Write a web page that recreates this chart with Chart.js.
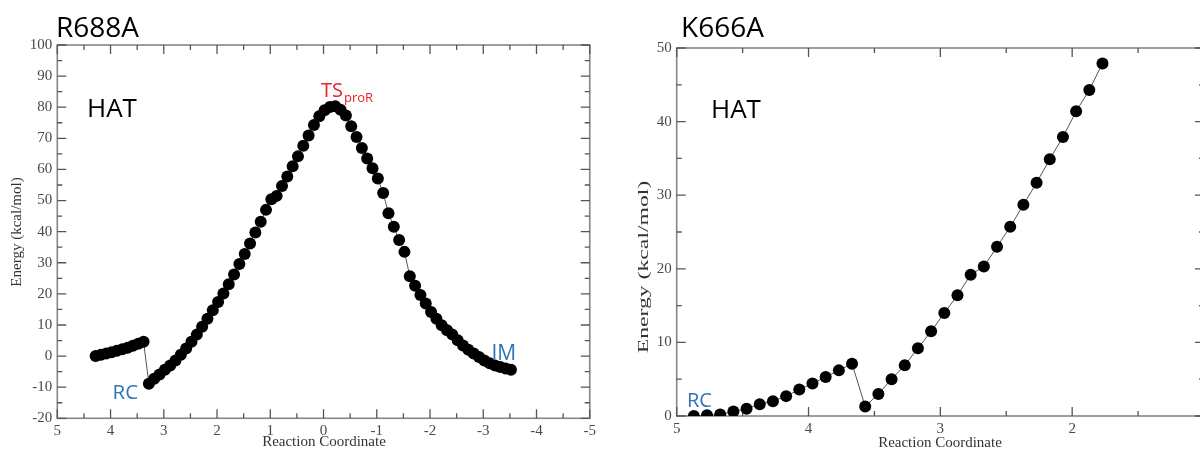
<!DOCTYPE html>
<html>
<head>
<meta charset="utf-8">
<script src="https://cdn.jsdelivr.net/npm/chart.js@4.4.1/dist/chart.umd.min.js"></script>
<style>
  html, body { margin: 0; padding: 0; background: #fff; overflow: hidden; width: 1200px; height: 452px; }
  canvas { position: absolute; top: 0; }
  #r688a { left: 0; }
  #k666a { left: 600px; }
</style>
</head>
<body>
<canvas id="r688a" width="600" height="452"></canvas>
<canvas id="k666a" width="620" height="452"></canvas>
<script>
// ---- R688A scan: reaction coordinate (Å difference) and relative energy (kcal/mol)
const r688aCoord = [
  4.28, 4.18, 4.08, 3.98, 3.88, 3.78, 3.68, 3.58, 3.48, 3.38,
  3.28, 3.18, 3.08, 2.98, 2.88, 2.78, 2.68, 2.58, 2.48, 2.38,
  2.28, 2.18, 2.08, 1.98, 1.88, 1.78, 1.68, 1.58, 1.48, 1.38,
  1.28, 1.18, 1.08, 0.98, 0.88, 0.78, 0.68, 0.58, 0.48, 0.38,
  0.28, 0.18, 0.08, -0.02, -0.12, -0.22, -0.32, -0.42, -0.52, -0.62,
  -0.72, -0.82, -0.92, -1.02, -1.12, -1.22, -1.32, -1.42, -1.52, -1.62,
  -1.72, -1.82, -1.92, -2.02, -2.12, -2.22, -2.32, -2.42, -2.52, -2.62,
  -2.72, -2.82, -2.92, -3.02, -3.12, -3.22, -3.32, -3.42, -3.52
];
const r688aEnergy = [
  0.0, 0.4, 0.8, 1.2, 1.7, 2.2, 2.7, 3.3, 4.0, 4.6,
  -8.9, -7.3, -5.9, -4.4, -3.0, -1.4, 0.4, 2.4, 4.6, 6.9,
  9.4, 12.0, 14.7, 17.4, 20.1, 23.1, 26.2, 29.6, 32.8, 36.2,
  39.7, 43.2, 47.0, 50.4, 51.5, 54.7, 57.7, 61.0, 64.2, 67.6,
  70.9, 74.3, 77.1, 79.0, 80.1, 80.3, 79.2, 77.3, 73.9, 70.4,
  66.9, 63.5, 60.4, 57.1, 52.4, 45.9, 41.6, 37.3, 33.5, 25.7,
  22.6, 19.6, 16.9, 14.2, 12.0, 9.9, 8.3, 6.9, 5.1, 3.4,
  2.0, 0.8, -0.3, -1.4, -2.3, -3.0, -3.5, -4.0, -4.4
];
const r688aXTicks = [5, 4, 3, 2, 1, 0, -1, -2, -3, -4, -5];
const r688aYTicks = [-20, -10, 0, 10, 20, 30, 40, 50, 60, 70, 80, 90, 100];

// ---- K666A scan
const k666aCoord = [
  4.87, 4.77, 4.67, 4.57, 4.47, 4.37, 4.27, 4.17, 4.07, 3.97,
  3.87, 3.77, 3.67, 3.57, 3.47, 3.37, 3.27, 3.17, 3.07, 2.97,
  2.87, 2.77, 2.67, 2.57, 2.47, 2.37, 2.27, 2.17, 2.07, 1.97,
  1.87, 1.77
];
const k666aEnergy = [
  0.0, 0.1, 0.2, 0.6, 1.0, 1.6, 2.0, 2.7, 3.6, 4.4,
  5.3, 6.2, 7.1, 1.3, 3.0, 5.0, 6.9, 9.2, 11.5, 14.0,
  16.4, 19.2, 20.3, 23.0, 25.7, 28.7, 31.7, 34.9, 37.9, 41.4,
  44.3, 47.9
];
const k666aXTicks = [5, 4, 3, 2, 1];
const k666aYTicks = [0, 10, 20, 30, 40, 50];

const SERIF = "'Liberation Serif', 'DejaVu Serif', serif";
const SANS = "'Open Sans', 'Noto Sans', sans-serif";
const TICK_COLOR = '#4a4a4a';
const BLUE = '#2e75b6';
const RED = '#e8202a';

// Grace-style box: gray frame with inward major/minor ticks on all four sides
function frameTicks(xMajor, yMajor) {
  return {
    id: 'frameTicks',
    beforeDatasetsDraw(chart) {
      const { ctx, chartArea: a, scales: { x, y } } = chart;
      ctx.save();
      ctx.strokeStyle = '#858585';
      ctx.lineWidth = 1.6;
      ctx.strokeRect(a.left, a.top, a.right - a.left, a.bottom - a.top);
      ctx.strokeStyle = '#555';
      ctx.lineWidth = 1.3;
      ctx.beginPath();
      const xs = [...xMajor].sort((p, q) => p - q);
      const ys = [...yMajor].sort((p, q) => p - q);
      const xStep = xs[1] - xs[0], yStep = ys[1] - ys[0];
      const xMarks = [], yMarks = [];
      xs.forEach((v, i) => { xMarks.push([v, 9]); if (i < xs.length - 1) xMarks.push([v + xStep / 2, 5]); });
      ys.forEach((v, i) => { yMarks.push([v, 9]); if (i < ys.length - 1) yMarks.push([v + yStep / 2, 5]); });
      xMarks.forEach(([v, len]) => {
        const px = x.getPixelForValue(v);
        ctx.moveTo(px, a.bottom); ctx.lineTo(px, a.bottom - len);
        ctx.moveTo(px, a.top); ctx.lineTo(px, a.top + len);
      });
      yMarks.forEach(([v, len]) => {
        const py = y.getPixelForValue(v);
        ctx.moveTo(a.left, py); ctx.lineTo(a.left + len, py);
        ctx.moveTo(a.right, py); ctx.lineTo(a.right - len, py);
      });
      ctx.stroke();
      ctx.restore();
    }
  };
}

function text(ctx, t, x, y, font, color, align) {
  ctx.font = font;
  ctx.fillStyle = color;
  ctx.textAlign = align || 'left';
  ctx.textBaseline = 'alphabetic';
  ctx.fillText(t, x, y);
}

function axisTitles(ctx, xCenter, xMid, yCenter, yX, yStretch) {
  ctx.save();
  ctx.font = '15px ' + SERIF;
  ctx.fillStyle = '#333';
  ctx.textAlign = 'center';
  ctx.textBaseline = 'middle';
  ctx.fillText('Reaction Coordinate', xCenter, xMid);
  ctx.translate(yX, yCenter);
  ctx.rotate(-Math.PI / 2);
  ctx.scale(yStretch, 1);
  ctx.fillText('Energy (kcal/mol)', 0, 0);
  ctx.restore();
}

function scales(xMin, xMax, xTicks, yMin, yMax, yTicks, yWidth, xHeight) {
  const tickFont = { family: SERIF, size: 15 };
  return {
    x: {
      type: 'linear', reverse: true, min: xMin, max: xMax,
      grid: { display: false, drawTicks: false }, border: { display: false },
      ticks: { font: tickFont, color: TICK_COLOR, padding: 4, autoSkip: false, maxRotation: 0, callback: v => String(v) },
      afterBuildTicks: s => { s.ticks = xTicks.map(v => ({ value: v })); },
      afterFit: s => { s.height = xHeight; }
    },
    y: {
      type: 'linear', min: yMin, max: yMax,
      grid: { display: false, drawTicks: false }, border: { display: false },
      ticks: { font: tickFont, color: TICK_COLOR, padding: 5, autoSkip: false, callback: v => String(v) },
      afterBuildTicks: s => { s.ticks = yTicks.map(v => ({ value: v })); },
      afterFit: s => { s.width = yWidth; }
    }
  };
}

function series(xs, ys) {
  return {
    data: xs.map((x, i) => ({ x, y: ys[i] })),
    borderColor: '#555',
    borderWidth: 1,
    tension: 0,
    pointRadius: 6,
    pointBorderWidth: 0,
    pointBackgroundColor: '#000',
    pointBorderColor: '#000'
  };
}

const common = {
  responsive: false,
  animation: false,
  devicePixelRatio: 1,
  plugins: { legend: { display: false }, tooltip: { enabled: false } }
};

// ---- R688A panel
new Chart(document.getElementById('r688a'), {
  type: 'line',
  data: { datasets: [series(r688aCoord, r688aEnergy)] },
  options: {
    ...common,
    layout: { padding: { top: 45, right: 9, left: 0, bottom: 0 } },
    scales: scales(-5, 5, r688aXTicks, -20, 100, r688aYTicks, 57.3, 33.7)
  },
  plugins: [
    frameTicks(r688aXTicks, r688aYTicks),
    {
      id: 'r688aLabels',
      afterDraw(chart) {
        const ctx = chart.ctx;
        ctx.save();
        text(ctx, 'R688A', 56, 37, '28px ' + SANS, '#000');
        text(ctx, 'HAT', 87, 117, '26px ' + SANS, '#000');
        text(ctx, 'TS', 321, 96.5, '20px ' + SANS, RED);
        text(ctx, 'proR', 344, 101.5, '13px ' + SANS, RED);
        text(ctx, 'RC', 112.5, 398.5, '20.5px ' + SANS, BLUE);
        text(ctx, 'IM', 491.5, 360, '21px ' + SANS, BLUE);
        ctx.restore();
        axisTitles(ctx, 324, 442, 232, 17, 1);
      }
    }
  ]
});

// ---- K666A panel
new Chart(document.getElementById('k666a'), {
  type: 'line',
  data: { datasets: [series(k666aCoord, k666aEnergy)] },
  options: {
    ...common,
    layout: { padding: { top: 48, right: 16, left: 0, bottom: 0 } },
    scales: scales(1, 5, k666aXTicks, 0, 50, k666aYTicks, 76.7, 36)
  },
  plugins: [
    frameTicks(k666aXTicks, k666aYTicks),
    {
      id: 'k666aLabels',
      afterDraw(chart) {
        const ctx = chart.ctx;
        ctx.save();
        text(ctx, 'K666A', 81, 37, '28px ' + SANS, '#000');
        text(ctx, 'HAT', 111, 118, '26px ' + SANS, '#000');
        text(ctx, 'RC', 87, 406.5, '20px ' + SANS, BLUE);
        ctx.restore();
        axisTitles(ctx, 340, 443, 267, 44, 1.58);
      }
    }
  ]
});
</script>
</body>
</html>
